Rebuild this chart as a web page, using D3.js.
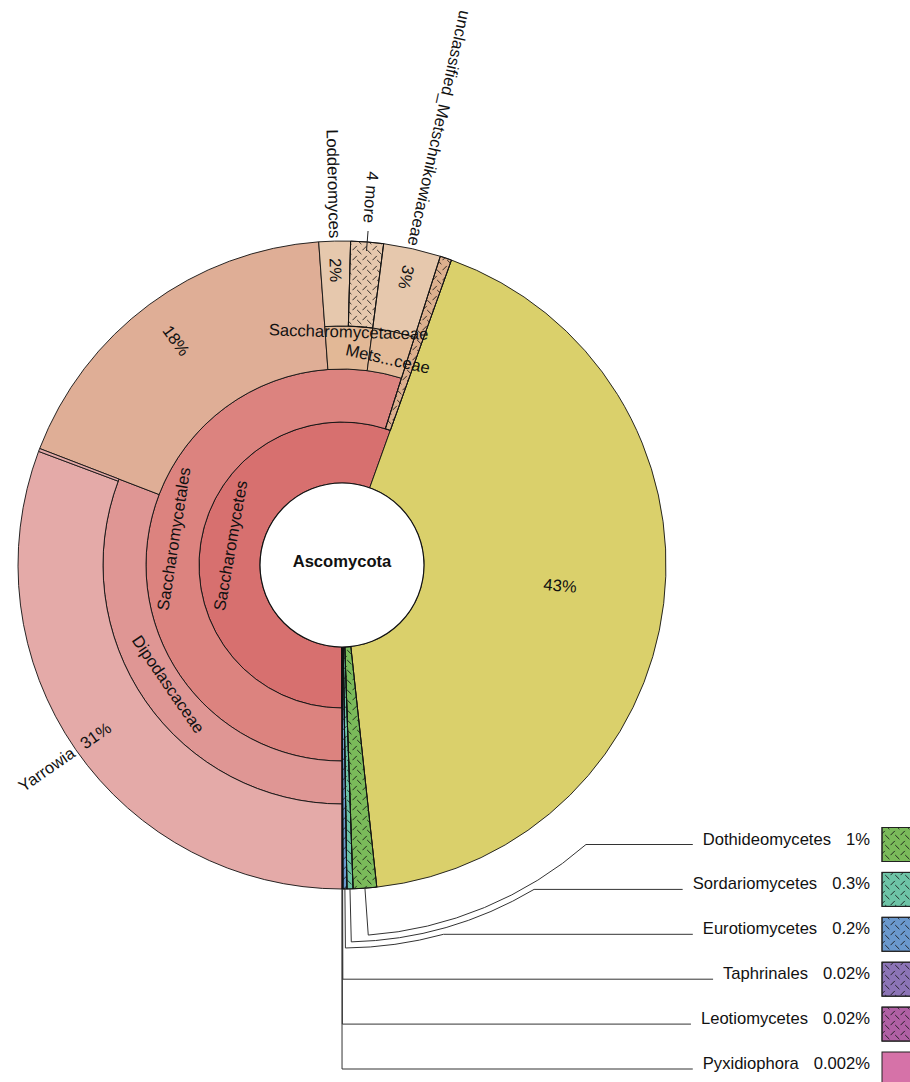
<!DOCTYPE html>
<html><head><meta charset="utf-8">
<script src="https://cdn.jsdelivr.net/npm/d3@7"></script>
<style>
body{margin:0;background:#fff}
svg{display:block}
text{font-family:"Liberation Sans",Arial,Helvetica,sans-serif;fill:#111;}
</style>
</head><body>
<svg id="c" width="910" height="1082"></svg>
<script>
// ---- data (percent of reads) ----
const nodeIds = ["Ascomycota","Saccharomycetes","Saccharomycetales","Dipodascaceae","Yarrowia","Dipodascaceae:other",
  "Saccharomycetales:unnamed","Saccharomycetaceae","Lodderomyces","4 more","Metschnikowiaceae",
  "unclassified_Metschnikowiaceae","Saccharomycetes:more","Ascomycota:unnamed","Dothideomycetes",
  "Sordariomycetes","Eurotiomycetes","Taphrinales","Leotiomycetes","Pyxidiophora"];
const nodeParents = ["","Ascomycota","Saccharomycetes","Saccharomycetales","Dipodascaceae","Dipodascaceae",
  "Saccharomycetales","Saccharomycetales","Saccharomycetaceae","Saccharomycetaceae","Saccharomycetales",
  "Metschnikowiaceae","Saccharomycetes","Ascomycota","Ascomycota",
  "Ascomycota","Ascomycota","Ascomycota","Ascomycota","Ascomycota"];
const nodeValues = [0,0,0,0,30.7,0.15,
  18.0,0,1.57,1.63,0,
  2.85,0.58,42.8,1.17,
  0.3,0.2,0.02,0.02,0.002];
const nodeColors = ["#ffffff","#d7706f","#dc837f","#df9694","#e4aaa8","#e4aaa8",
  "#dfae96","#e2b896","#e6c8ad","#e6c8ad","#e3bb99",
  "#e6c8ad","#dcb08e","#dad06b","#7aba5a",
  "#6dc4a6","#6a98cd","#8c74b6","#b060a4","#d672a8"];
const hatchedIds = ["4 more","Saccharomycetes:more","Dothideomycetes","Sordariomycetes","Eurotiomycetes","Taphrinales","Leotiomycetes"];
const calloutIds = ["Dothideomycetes","Sordariomycetes","Eurotiomycetes","Taphrinales","Leotiomycetes","Pyxidiophora"];
const outsideNameIds = ["Yarrowia","Lodderomyces","unclassified_Metschnikowiaceae"];
const innerLabelIds = ["Saccharomycetes","Saccharomycetales","Dipodascaceae","Saccharomycetaceae","Metschnikowiaceae"];

// ---- layout ----
const FS = 16.6;
const cx = 342, cy = 565;
const ringR = [0, 82, 143, 196, 239, 324];
const R = ringR[5];
const svg = d3.select("#c");
const defs = svg.append("defs");
const pat = defs.append("pattern").attr("id","hatch").attr("patternUnits","userSpaceOnUse")
  .attr("width",10).attr("height",10);
pat.append("path").attr("d","M0.5,5.2L4.8,0.9M5.2,5.0L9.4,9.2")
  .attr("stroke","#111").attr("stroke-width",1).attr("fill","none").attr("stroke-opacity",0.85);

const table = nodeIds.map((id,i)=>({id, parent: nodeParents[i] || null, value: nodeValues[i], color: nodeColors[i]}));
const root = d3.stratify().id(d=>d.id).parentId(d=>d.parent)(table);
root.sum(d=>d.value);
d3.partition().size([1,1])(root);
const total = root.value;
const ang = d3.scaleLinear().domain([0,1]).range([Math.PI, 3*Math.PI]);
const deg = r => r*180/Math.PI;
const midDeg = d => deg((ang(d.x0)+ang(d.x1))/2);
const pct = d => { const v = d.value/total*100; return (v>=1 ? Math.round(v) : d3.format(".1r")(v)) + "%"; };
const pt = (th, r) => [cx + r*Math.sin(th*Math.PI/180), cy - r*Math.cos(th*Math.PI/180)];
const outerOf = d => d.children ? ringR[d.depth+1] : R;

const arc = d3.arc().startAngle(d=>ang(d.x0)).endAngle(d=>ang(d.x1))
  .innerRadius(d=>ringR[d.depth]).outerRadius(d=>outerOf(d));

const g = svg.append("g").attr("transform",`translate(${cx},${cy})`);
const nodes = root.descendants().filter(d=>d.depth>0);
g.selectAll("path.w").data(nodes).join("path").attr("class","w")
  .attr("d",arc).attr("fill",d=>d.data.color).attr("stroke","#111").attr("stroke-width",0.9);
g.selectAll("path.h").data(nodes.filter(d=>hatchedIds.includes(d.id))).join("path").attr("class","h")
  .attr("d",arc).attr("fill","url(#hatch)").attr("stroke","#111").attr("stroke-width",0.9);
g.append("circle").attr("r",ringR[1]).attr("fill","#fff").attr("stroke","#111").attr("stroke-width",1.2);
svg.append("text").attr("x",cx).attr("y",cy-4).attr("text-anchor","middle").attr("dominant-baseline","central")
  .attr("font-size",FS).attr("font-weight","bold").text(root.id);

const byId = id => root.descendants().find(d=>d.id===id);

// tangential labels of inner wedges
const innerRadius = {"Saccharomycetes":113,"Saccharomycetales":170,"Dipodascaceae":211,"Saccharomycetaceae":233,"Metschnikowiaceae":211};
function tangRot(th){ const n=((th%360)+360)%360; return (n>90&&n<270)? n-180 : (n>=270? n-360 : n); }
innerLabelIds.forEach(id=>{
  const d = byId(id), th = midDeg(d), p = pt(th, innerRadius[id]);
  const txt = id==="Metschnikowiaceae" ? id.slice(0,4)+"..."+id.slice(-4) : id;
  svg.append("text").attr("transform",`translate(${p[0]},${p[1]}) rotate(${tangRot(th)})`)
    .attr("text-anchor","middle").attr("dominant-baseline","central").attr("font-size",FS).text(txt);
});

// radial labels (name outside, percent inside)
outsideNameIds.forEach(id=>{
  const d = byId(id), th = midDeg(d);
  const p1 = pt(th, R+3), p2 = pt(th, 283);
  svg.append("text").attr("transform",`translate(${p1[0]},${p1[1]}) rotate(${th+90})`)
    .attr("text-anchor","end").attr("dominant-baseline","central").attr("font-size",FS).text(id);
  svg.append("text").attr("transform",`translate(${p2[0]},${p2[1]}) rotate(${th+90})`)
    .attr("text-anchor","end").attr("dominant-baseline","central").attr("font-size",FS).text(pct(d));
});
// "4 more" label with tick
{
  const d = byId("4 more"), th = midDeg(d);
  const a = pt(th,315), b = pt(th,335), p = pt(th,343);
  svg.append("line").attr("x1",a[0]).attr("y1",a[1]).attr("x2",b[0]).attr("y2",b[1]).attr("stroke","#222").attr("stroke-width",1);
  svg.append("text").attr("transform",`translate(${p[0]},${p[1]}) rotate(${th+90})`)
    .attr("text-anchor","end").attr("dominant-baseline","central").attr("font-size",FS).text(d.id);
}
// unnamed wedges: percent only
{
  const d = byId("Saccharomycetales:unnamed"), th = midDeg(d), p = pt(th,279);
  svg.append("text").attr("transform",`translate(${p[0]},${p[1]}) rotate(${th+90-360})`)
    .attr("text-anchor","middle").attr("dominant-baseline","central").attr("font-size",FS).text(pct(d));
  const e = byId("Ascomycota:unnamed"), te = midDeg(e), q = pt(te-1.3,219);
  svg.append("text").attr("transform",`translate(${q[0]},${q[1]}) rotate(${te-92})`)
    .attr("text-anchor","middle").attr("dominant-baseline","central").attr("font-size",FS).text(pct(e));
}

// callouts + legend
const legY0 = 844.5, legStep = 44.9;
calloutIds.forEach((id,k)=>{
  const d = byId(id), th = midDeg(d) - 360;
  const ly = legY0 + k*legStep;
  const t = svg.append("text").attr("x",870).attr("y",ly).attr("text-anchor","end").attr("font-size",FS);
  t.append("tspan").text(id);
  t.append("tspan").attr("dx",15).text(pct(d));
  const bb = t.node().getBBox();
  const xEnd = bb.x - 10;
  const rk = 371 + 6*k;
  const p0 = pt(th, R);
  let path;
  if (ly - cy <= rk) {
    const p1 = pt(th, rk);
    const thE = deg(Math.acos((cy-ly)/rk));
    const p2 = pt(thE, rk);
    path = `M${p0[0]},${p0[1]}L${p1[0]},${p1[1]}A${rk},${rk} 0 0 0 ${p2[0]},${p2[1]}L${xEnd},${ly}`;
  } else {
    const rr = (ly-cy)/(-Math.cos(th*Math.PI/180));
    const p1 = pt(th, rr);
    path = `M${p0[0]},${p0[1]}L${p1[0]},${p1[1]}L${xEnd},${ly}`;
  }
  svg.append("path").attr("d",path).attr("fill","none").attr("stroke","#333").attr("stroke-width",1);
  svg.append("rect").attr("x",882).attr("y",ly-17).attr("width",40).attr("height",34)
    .attr("fill",d.data.color).attr("stroke","#222").attr("stroke-width",1);
  if (hatchedIds.includes(id))
    svg.append("rect").attr("x",882).attr("y",ly-17).attr("width",40).attr("height",34)
      .attr("fill","url(#hatch)").attr("stroke","#222").attr("stroke-width",1);
});
</script>
</body></html>
